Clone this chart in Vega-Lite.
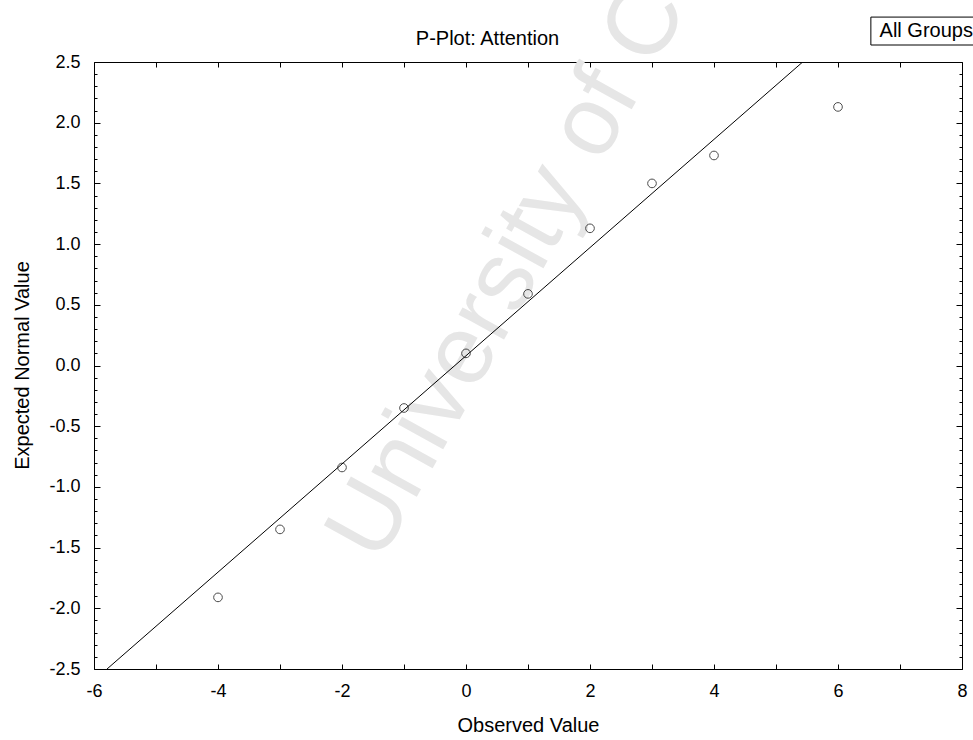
{
  "$schema": "https://vega.github.io/schema/vega-lite/v6.json",
  "width": 868,
  "height": 607,
  "autosize": "none",
  "padding": {"left": 94, "top": 62, "right": 11, "bottom": 71},
  "background": "white",
  "config": {
    "view": {"stroke": "black", "strokeWidth": 1},
    "font": "Liberation Sans",
    "axis": {"labelFont": "Liberation Sans", "titleFont": "Liberation Sans", "labelColor": "black", "titleColor": "black", "tickColor": "black", "domain": false, "grid": false}
  },
  "datasets": {
    "points": [
      {"observed": -4, "expected": -1.91},
      {"observed": -3, "expected": -1.35},
      {"observed": -2, "expected": -0.84},
      {"observed": -1, "expected": -0.35},
      {"observed": 0, "expected": 0.1},
      {"observed": 1, "expected": 0.59},
      {"observed": 2, "expected": 1.13},
      {"observed": 3, "expected": 1.5},
      {"observed": 4, "expected": 1.73},
      {"observed": 6, "expected": 2.13}
    ],
    "fit": [
      {"observed": -5.79, "expected": -2.5},
      {"observed": 5.43, "expected": 2.5}
    ],
    "watermark": [{"observed": -1.4, "expected": -1.64, "label": "University of Cape Town"}],
    "box": [{"x0": 6.53, "x1": 8.3, "y0": 2.64, "y1": 2.87, "tx": 6.67, "ty": 2.755, "label": "All Groups"}]
  },
  "layer": [
    {
      "data": {"name": "watermark"},
      "mark": {"type": "text", "angle": -61, "align": "left", "baseline": "alphabetic", "fontSize": 98, "color": "#e6e6e6", "clip": false},
      "encoding": {
        "x": {"field": "observed", "type": "quantitative", "axis": null, "scale": {"domain": [-6, 8], "nice": false, "zero": false}},
        "y": {"field": "expected", "type": "quantitative", "axis": null, "scale": {"domain": [-2.5, 2.5], "nice": false, "zero": false}},
        "text": {"field": "label"}
      }
    },
    {
      "data": {"name": "fit"},
      "mark": {"type": "line", "color": "black", "strokeWidth": 1, "clip": true},
      "encoding": {
        "x": {"field": "observed", "type": "quantitative",
          "axis": {"orient": "top", "values": [-6,-5,-4,-3,-2,-1,0,1,2,3,4,5,6,7,8], "labels": false, "tickSize": -5,
            "title": "P-Plot: Attention", "titleFontSize": 20, "titleFontWeight": "normal", "titleX": 393, "titleY": -24, "titleBaseline": "middle", "titleAlign": "center"}},
        "y": {"field": "expected", "type": "quantitative",
          "axis": {"orient": "right", "values": [-2.5,-2.4,-2.3,-2.2,-2.1,-2.0,-1.9,-1.8,-1.7,-1.6,-1.5,-1.4,-1.3,-1.2,-1.1,-1.0,-0.9,-0.8,-0.7,-0.6,-0.5,-0.4,-0.3,-0.2,-0.1,0,0.1,0.2,0.3,0.4,0.5,0.6,0.7,0.8,0.9,1.0,1.1,1.2,1.3,1.4,1.5,1.6,1.7,1.8,1.9,2.0,2.1,2.2,2.3,2.4,2.5], "labels": false, "title": null,
            "tickSize": {"condition": {"test": "abs(datum.value*2 - round(datum.value*2)) < 0.001", "value": -6}, "value": -3}}}
      }
    },
    {
      "data": {"name": "points"},
      "mark": {"type": "point", "shape": "circle", "filled": false, "size": 75, "stroke": "black", "strokeWidth": 1},
      "encoding": {
        "x": {"field": "observed", "type": "quantitative",
          "axis": {"orient": "bottom", "values": [-6,-5,-4,-3,-2,-1,0,1,2,3,4,5,6,7,8], "labelExpr": "datum.value % 2 === 0 ? replace(datum.label, '\u2212', '-') : ''",
            "labelFlush": false, "labelOverlap": false, "tickSize": -5, "labelPadding": 18, "labelFontSize": 18,
            "title": "Observed Value", "titleFontSize": 20, "titleFontWeight": "normal", "titleX": 434, "titleY": 56, "titleBaseline": "middle", "titleAlign": "center"}},
        "y": {"field": "expected", "type": "quantitative",
          "axis": {"orient": "left", "values": [-2.5,-2.4,-2.3,-2.2,-2.1,-2.0,-1.9,-1.8,-1.7,-1.6,-1.5,-1.4,-1.3,-1.2,-1.1,-1.0,-0.9,-0.8,-0.7,-0.6,-0.5,-0.4,-0.3,-0.2,-0.1,0,0.1,0.2,0.3,0.4,0.5,0.6,0.7,0.8,0.9,1.0,1.1,1.2,1.3,1.4,1.5,1.6,1.7,1.8,1.9,2.0,2.1,2.2,2.3,2.4,2.5],
            "format": ".1f", "labelExpr": "abs(datum.value*2 - round(datum.value*2)) < 0.001 ? replace(datum.label, '\u2212', '-') : ''",
            "labelOverlap": false, "labelFlush": false, "labelFontSize": 18,
            "tickSize": {"condition": {"test": "abs(datum.value*2 - round(datum.value*2)) < 0.001", "value": -6}, "value": -3},
            "labelPadding": 20,
            "title": "Expected Normal Value", "titleFontSize": 20, "titleFontWeight": "normal", "titleX": -72, "titleY": 303, "titleAngle": -90, "titleBaseline": "middle", "titleAlign": "center"}}
      }
    },
    {
      "data": {"name": "box"},
      "mark": {"type": "rect", "fill": "white", "stroke": "black", "strokeWidth": 1, "clip": false},
      "encoding": {
        "x": {"field": "x0", "type": "quantitative", "axis": null},
        "x2": {"field": "x1"},
        "y": {"field": "y0", "type": "quantitative", "axis": null},
        "y2": {"field": "y1"}
      }
    },
    {
      "data": {"name": "box"},
      "mark": {"type": "text", "align": "left", "baseline": "middle", "fontSize": 20, "color": "black", "clip": false},
      "encoding": {
        "x": {"field": "tx", "type": "quantitative", "axis": null},
        "y": {"field": "ty", "type": "quantitative", "axis": null},
        "text": {"field": "label"}
      }
    }
  ],
  "resolve": {"axis": {"x": "independent", "y": "independent"}}
}
